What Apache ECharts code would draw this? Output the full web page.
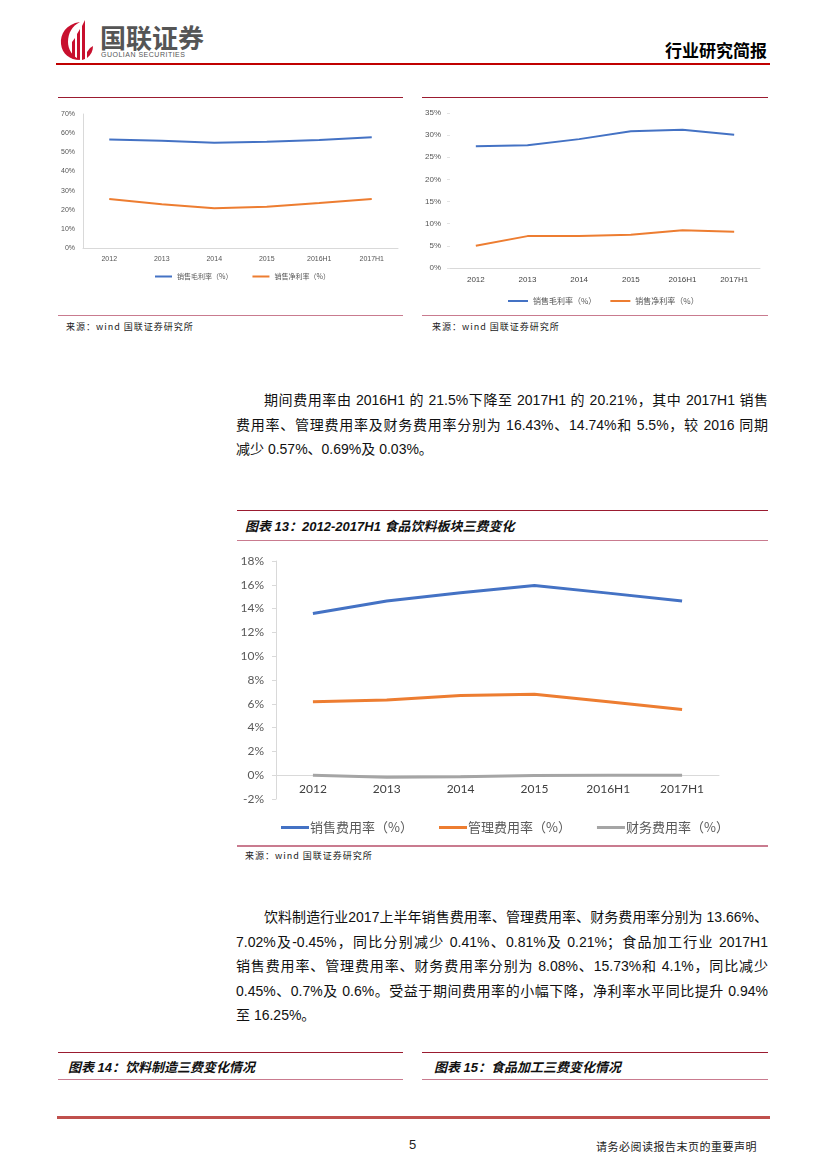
<!DOCTYPE html>
<html><head><meta charset="utf-8">
<script src="https://cdn.jsdelivr.net/npm/echarts@6/dist/echarts.min.js"></script>
<style>
html,body{margin:0;padding:0;background:#fff;}
#page{position:relative;width:827px;height:1169px;overflow:hidden;font-family:"Liberation Sans","Noto Sans CJK SC",sans-serif;color:#000;}
.abs{position:absolute;}
.hl{position:absolute;height:0;}
.ln{position:absolute;font-size:14px;line-height:18px;white-space:nowrap;color:#111;}
.just{text-align:justify;text-align-last:justify;}
.src{position:absolute;font-size:9px;color:#222;font-family:"Noto Sans CJK SC",sans-serif;letter-spacing:1px;}
.ttl{position:absolute;font-size:13px;font-weight:bold;font-style:italic;font-family:"Liberation Sans","Noto Sans CJK SC",sans-serif;color:#111;}
</style></head>
<body><div id="page">
<!-- header -->
<svg class="abs" style="left:58px;top:18px" width="40" height="44" viewBox="0 0 40 44">
  <path d="M22 4 C8 6 2 16 3 26 C4 36 12 42 22 42 C14 38 10 31 10 24 C10 15 14 8 22 4 Z" fill="#c8102e"/>
  <path d="M14 40 L14 24 L17 20 L17 41 Z" fill="#c8102e"/>
  <path d="M19 41 L19 16 L22 11 L22 42 Z" fill="#c8102e"/>
  <path d="M24 42 L24 8 L27 2 L27 41 Z" fill="#c8102e"/>
  <path d="M29 40 C33 37 35 33 35 28 L32 30 L29 34 Z" fill="#c8102e"/>
</svg>
<div class="abs" style="left:100px;top:21px;font-size:26px;font-weight:bold;color:#555;font-family:'Noto Sans CJK SC';letter-spacing:0px;line-height:32px">国联证券</div>
<div class="abs" style="left:101px;top:51px;font-size:7px;color:#555;letter-spacing:0.5px;font-family:'Liberation Sans'">GUOLIAN SECURITIES</div>
<div class="abs" style="right:60px;top:39px;font-size:17px;font-weight:bold;font-family:'Noto Sans CJK SC';line-height:22px">行业研究简报</div>
<div class="hl" style="left:56px;top:63px;width:714px;border-top:2px solid #c00000"></div>

<!-- top charts frame -->
<div class="hl" style="left:58px;top:97px;width:345px;border-top:1.5px solid #9b1b30"></div>
<div class="hl" style="left:422px;top:97px;width:346px;border-top:1.5px solid #9b1b30"></div>
<div id="c1" class="abs" style="left:40px;top:100px;width:370px;height:195px"></div>
<div id="c2" class="abs" style="left:410px;top:100px;width:370px;height:210px"></div>
<div class="hl" style="left:58px;top:315px;width:345px;border-top:1.5px solid #c97b8f"></div>
<div class="hl" style="left:422px;top:315px;width:346px;border-top:1.5px solid #c97b8f"></div>
<div class="src" style="left:66px;top:320px">来源：wind 国联证券研究所</div>
<div class="src" style="left:432px;top:320px">来源：wind 国联证券研究所</div>

<!-- paragraph 1 -->
<div class="ln just" style="left:264px;top:391px;width:504px">期间费用率由 2016H1 的 21.5%下降至 2017H1 的 20.21%，其中 2017H1 销售</div>
<div class="ln just" style="left:236px;top:416px;width:532px">费用率、管理费用率及财务费用率分别为 16.43%、14.74%和 5.5%，较 2016 同期</div>
<div class="ln" style="left:236px;top:440px">减少 0.57%、0.69%及 0.03%。</div>

<!-- chart 13 -->
<div class="hl" style="left:237px;top:510px;width:531px;border-top:1.5px solid #9b1b30"></div>
<div class="ttl" style="left:245px;top:516px">图表 13：2012-2017H1 食品饮料板块三费变化</div>
<div class="hl" style="left:237px;top:540px;width:531px;border-top:1.5px solid #c97b8f"></div>
<div id="c3" class="abs" style="left:230px;top:548px;width:550px;height:292px"></div>
<div class="hl" style="left:237px;top:845px;width:531px;border-top:2px solid #c97b8f"></div>
<div class="src" style="left:245px;top:849px">来源：wind 国联证券研究所</div>

<!-- paragraph 2 -->
<div class="ln just" style="left:264px;top:908px;width:504px">饮料制造行业2017上半年销售费用率、管理费用率、财务费用率分别为 13.66%、</div>
<div class="ln just" style="left:236px;top:933px;width:532px">7.02%及-0.45%，同比分别减少 0.41%、0.81%及 0.21%；食品加工行业 2017H1</div>
<div class="ln just" style="left:236px;top:957px;width:532px">销售费用率、管理费用率、财务费用率分别为 8.08%、15.73%和 4.1%，同比减少</div>
<div class="ln just" style="left:236px;top:982px;width:532px">0.45%、0.7%及 0.6%。受益于期间费用率的小幅下降，净利率水平同比提升 0.94%</div>
<div class="ln" style="left:236px;top:1006px">至 16.25%。</div>

<!-- figure 14 / 15 headers -->
<div class="hl" style="left:58px;top:1052px;width:345px;border-top:1.5px solid #9b1b30"></div>
<div class="hl" style="left:422px;top:1052px;width:346px;border-top:1.5px solid #9b1b30"></div>
<div class="ttl" style="left:68px;top:1057px">图表 14：饮料制造三费变化情况</div>
<div class="ttl" style="left:434px;top:1057px">图表 15：食品加工三费变化情况</div>
<div class="hl" style="left:58px;top:1079px;width:345px;border-top:1.5px solid #c97b8f"></div>
<div class="hl" style="left:422px;top:1079px;width:346px;border-top:1.5px solid #c97b8f"></div>

<!-- footer -->
<div class="hl" style="left:57px;top:1116px;width:713px;border-top:3px solid #c0504d"></div>
<div class="abs" style="left:409px;top:1137px;font-size:13px;color:#222">5</div>
<div class="abs" style="left:596px;top:1138px;font-size:11px;color:#222;font-family:'Noto Sans CJK SC';letter-spacing:0.5px">请务必阅读报告末页的重要声明</div>
</div>
<script>
var categories = ['2012', '2013', '2014', '2015', '2016H1', '2017H1'];
// left small chart
var grossMargin1 = [56.7, 56.0, 55.0, 55.5, 56.4, 57.8];
var netMargin1 = [25.6, 22.9, 20.8, 21.5, 23.5, 25.6];
// right small chart
var grossMargin2 = [27.5, 27.7, 29.1, 30.9, 31.2, 30.1];
var netMargin2 = [5.0, 7.2, 7.2, 7.5, 8.5, 8.2];
// chart 13
var salesExp = [13.58, 14.64, 15.34, 15.95, 15.3, 14.64];
var adminExp = [6.17, 6.31, 6.7, 6.81, 6.17, 5.53];
var finExp = [0, -0.17, -0.12, -0.02, 0, 0];
var names1 = ['销售毛利率（%）', '销售净利率（%）'];
var names3 = ['销售费用率（%）', '管理费用率（%）', '财务费用率（%）'];

var BLUE = '#4472C4', ORANGE = '#ED7D31', GRAY = '#A5A5A5';
function pct(v){ return v + '%'; }

function makeChart(el, opt){
  var c = echarts.init(document.getElementById(el), null, {renderer:'canvas'});
  c.setOption(opt);
}

makeChart('c1', {
  animation:false,
  grid:{left:43, top:14, width:315, height:134},
  legend:{left:110, top:168, itemWidth:17, itemHeight:2, itemGap:20, icon:'rect',
    textStyle:{fontSize:7, color:'#555', fontFamily:'Noto Sans CJK SC'},
    data:names1},
  xAxis:{type:'category', data:categories, boundaryGap:true,
    axisLine:{lineStyle:{color:'#d9d9d9'}}, axisTick:{show:false},
    axisLabel:{fontSize:7, color:'#555', margin:8}},
  yAxis:{type:'value', min:0, max:70, interval:10,
    axisLine:{show:true, lineStyle:{color:'#d9d9d9'}}, axisTick:{show:false}, splitLine:{show:false},
    axisLabel:{fontSize:7, color:'#555', formatter:pct, margin:8}},
  series:[
    {name:names1[0], type:'line', data:grossMargin1, symbol:'none', lineStyle:{width:2, color:BLUE}, itemStyle:{color:BLUE}},
    {name:names1[1], type:'line', data:netMargin1, symbol:'none', lineStyle:{width:2, color:ORANGE}, itemStyle:{color:ORANGE}}
  ]
});

makeChart('c2', {
  animation:false,
  grid:{left:40, top:13, width:310, height:155},
  legend:{left:93, top:192, itemWidth:20, itemHeight:2, itemGap:14, icon:'rect',
    textStyle:{fontSize:8, color:'#555', fontFamily:'Noto Sans CJK SC'},
    data:names1},
  xAxis:{type:'category', data:categories, boundaryGap:true,
    axisLine:{lineStyle:{color:'#d9d9d9'}}, axisTick:{show:false},
    axisLabel:{fontSize:8, color:'#444', margin:8}},
  yAxis:{type:'value', min:0, max:35, interval:5,
    axisLine:{show:false}, axisTick:{show:true, length:3, lineStyle:{color:'#e3e3e3'}}, splitLine:{show:false},
    axisLabel:{fontSize:8, color:'#555', formatter:pct, margin:9}},
  series:[
    {name:names1[0], type:'line', data:grossMargin2, symbol:'none', lineStyle:{width:2, color:BLUE}, itemStyle:{color:BLUE}},
    {name:names1[1], type:'line', data:netMargin2, symbol:'none', lineStyle:{width:2, color:ORANGE}, itemStyle:{color:ORANGE}}
  ]
});

makeChart('c3', {
  animation:false,
  grid:{left:46, top:13, width:443, height:238},
  legend:{left:46, top:268, itemWidth:28, itemHeight:3, itemGap:26, icon:'rect',
    textStyle:{fontSize:13, color:'#595959', fontFamily:'Noto Sans CJK SC', padding:[0,0,0,-4]},
    data:names3},
  xAxis:{type:'category', data:categories, boundaryGap:true,
    axisLine:{onZero:true, lineStyle:{color:'#d9d9d9'}}, axisTick:{show:false},
    axisLabel:{fontSize:12, color:'#404040', margin:-16, fontFamily:'Lato'}},
  yAxis:{type:'value', min:-2, max:18, interval:2,
    axisLine:{show:true, lineStyle:{color:'#d9d9d9'}}, axisTick:{show:true, length:4, lineStyle:{color:'#d9d9d9'}}, splitLine:{show:false},
    axisLabel:{fontSize:12, color:'#595959', formatter:pct, margin:12, fontFamily:'Lato'}},
  series:[
    {name:names3[0], type:'line', data:salesExp, symbol:'none', lineStyle:{width:3, color:BLUE}, itemStyle:{color:BLUE}},
    {name:names3[1], type:'line', data:adminExp, symbol:'none', lineStyle:{width:3, color:ORANGE}, itemStyle:{color:ORANGE}},
    {name:names3[2], type:'line', data:finExp, symbol:'none', lineStyle:{width:3, color:GRAY}, itemStyle:{color:GRAY}}
  ]
});
</script>
</body></html>
